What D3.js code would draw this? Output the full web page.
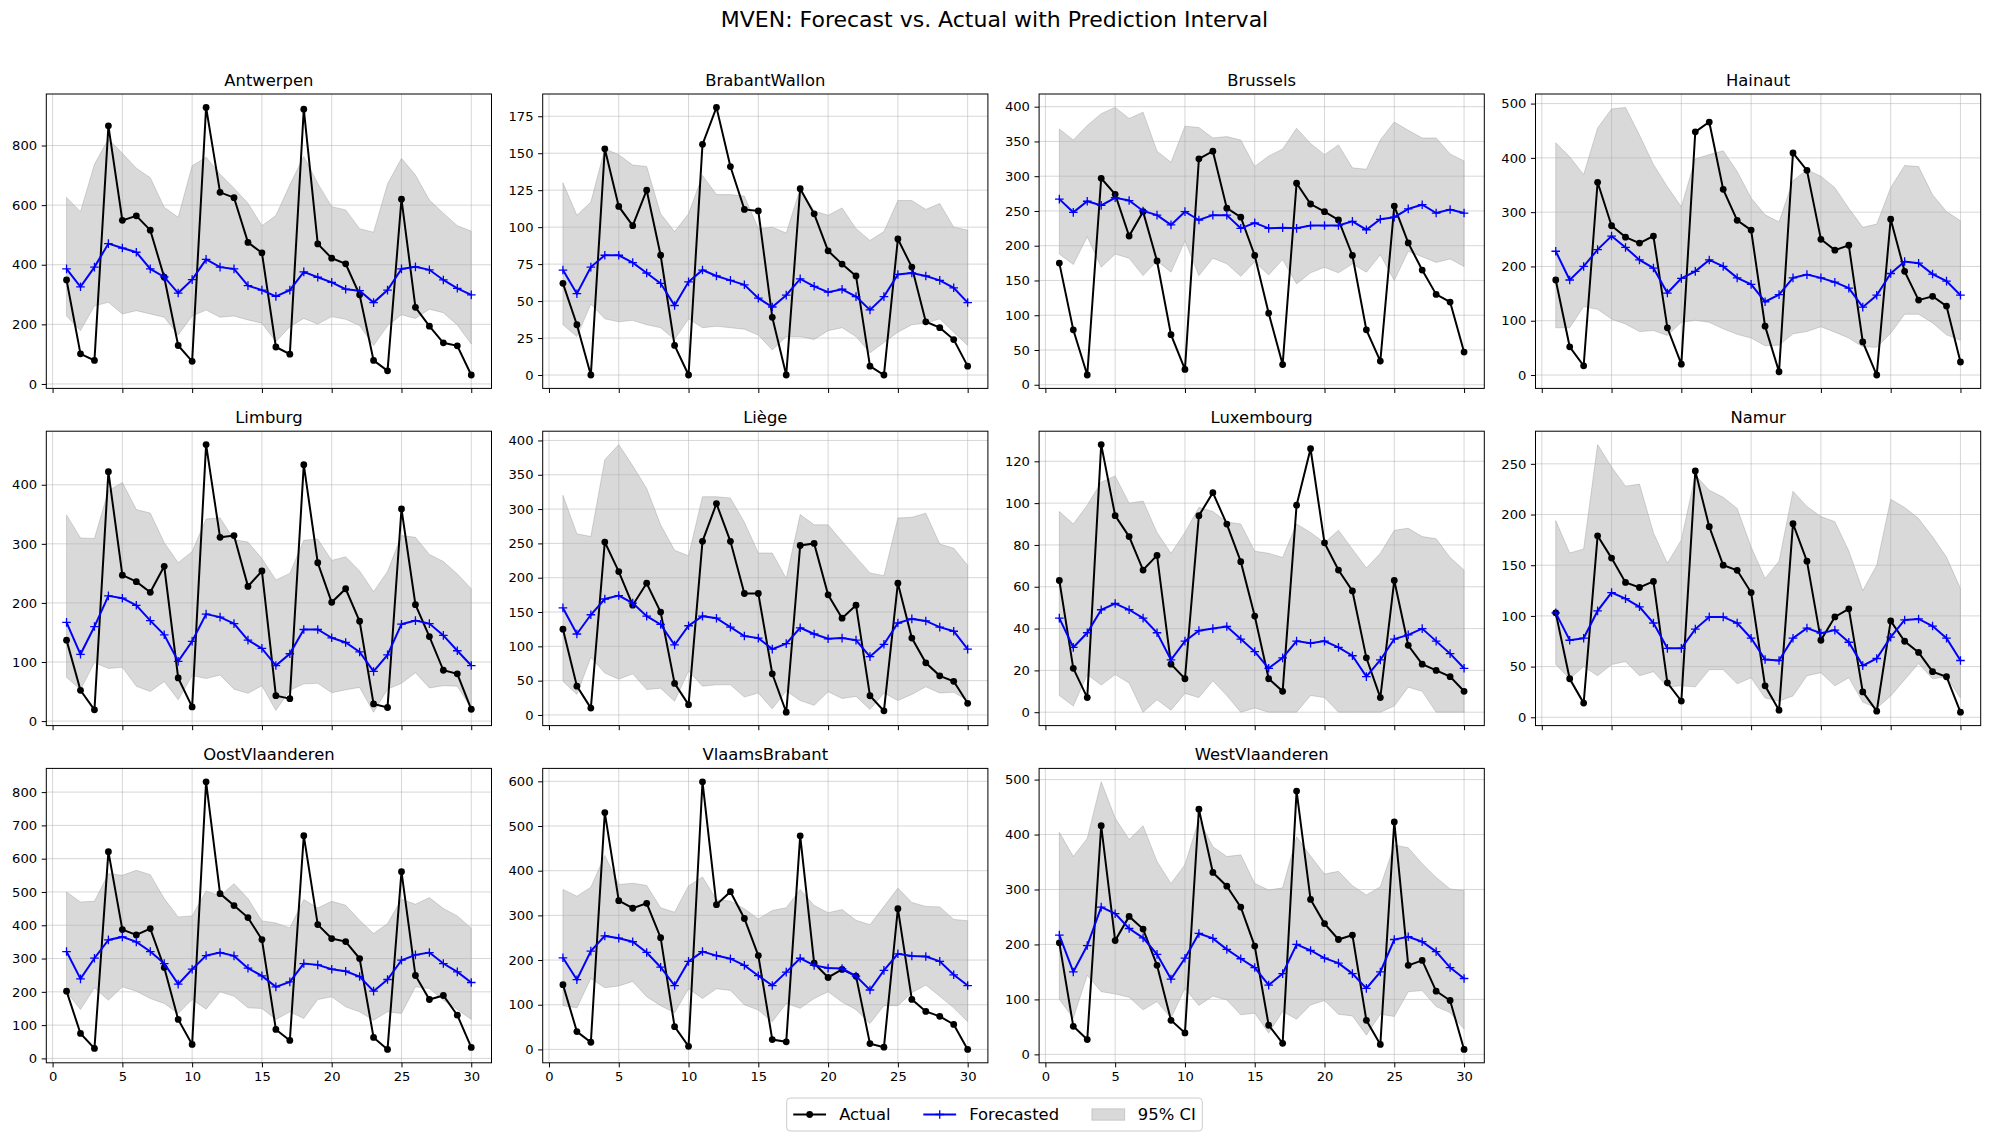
<!DOCTYPE html>
<html>
<head>
<meta charset="utf-8">
<script src="https://cdn.jsdelivr.net/npm/d3@7"></script>
<style>
  body { margin: 0; background: #fff; }
  svg { display: block; font-family: "DejaVu Sans", sans-serif; }
</style>
</head>
<body>
<div id="chart"></div>
<script>
// --- data ---
const regions = ["Antwerpen", "BrabantWallon", "Brussels", "Hainaut", "Limburg", "Liège",
  "Luxembourg", "Namur", "OostVlaanderen", "VlaamsBrabant", "WestVlaanderen"];
const days = d3.range(1, 31);
const xTickValues = [0, 5, 10, 15, 20, 25, 30];

const actual = [
  [349,101,79,866,549,564,516,358,129,76,928,643,625,475,440,124,100,922,470,422,403,299,79,44,620,257,194,138,128,30],
  [62,34,0,153,114,101,125,81,20,0,156,181,141,112,111,39,0,126,109,84,75,67,6,0,92,73,36,32,24,6],
  [175,79,14,297,274,214,249,178,72,22,325,336,254,241,186,103,29,290,260,249,237,186,79,34,257,204,165,130,119,47],
  [175,52,17,355,275,254,243,256,87,20,448,466,342,285,267,90,6,409,377,250,230,239,61,0,287,191,138,145,127,24],
  [137,52,19,422,247,236,218,262,73,24,468,311,314,228,254,43,38,434,268,201,224,169,29,23,359,197,143,86,80,20],
  [125,42,10,252,209,160,192,150,46,15,253,308,253,177,177,60,4,247,250,175,141,160,28,6,192,112,76,57,49,17],
  [63,21,7,128,94,84,68,75,23,16,94,105,90,72,46,16,10,99,126,81,68,58,26,7,63,32,23,20,17,10],
  [103,38,14,179,157,133,128,134,34,16,243,188,150,145,123,31,7,191,154,76,99,107,25,6,95,75,64,45,40,5],
  [202,75,30,621,387,371,390,273,117,42,831,495,459,423,357,87,54,669,402,360,351,300,63,27,561,249,177,189,130,33],
  [145,40,16,530,333,316,327,250,51,7,599,324,353,293,210,22,17,478,193,161,179,164,13,5,315,112,85,74,56,0],
  [203,51,27,416,207,251,228,162,62,39,446,331,306,268,197,53,20,479,282,238,209,217,62,18,423,162,171,115,98,9]
];

const forecast = [
  [386,326,392,471,456,442,386,359,305,350,418,392,386,330,315,294,315,376,358,341,318,313,273,315,386,393,383,349,321,299],
  [71,55,73,81,81,76,69,62,47,63,71,67,64,61,52,46,54,65,60,56,58,53,44,53,68,69,67,64,59,49],
  [267,248,264,258,269,265,250,244,230,249,237,244,244,225,233,225,226,225,229,229,229,235,223,238,241,253,259,247,252,247],
  [228,175,200,231,256,235,212,197,151,178,191,212,200,179,167,135,148,179,185,179,171,160,125,147,187,209,206,186,173,147],
  [167,113,160,212,208,196,170,146,101,135,181,176,165,137,123,94,114,155,155,141,133,117,84,112,164,170,165,145,119,94],
  [156,118,146,169,174,163,144,132,102,130,144,141,128,115,112,96,104,127,118,111,112,109,85,103,134,140,137,128,122,96],
  [45,31,38,49,52,49,45,38,25,34,39,40,41,35,29,21,26,34,33,34,31,27,17,25,35,37,40,34,28,21],
  [103,76,78,105,123,117,109,93,68,68,87,99,99,93,78,57,56,78,88,83,86,74,51,58,79,96,97,90,78,56],
  [321,239,301,356,365,350,321,285,223,268,309,318,308,271,248,215,230,285,281,268,262,246,202,237,295,311,318,285,260,228],
  [205,156,220,254,249,241,217,184,143,197,219,210,203,188,165,143,173,204,188,182,181,164,133,177,214,209,208,197,167,143],
  [217,150,198,268,256,229,212,182,137,175,220,211,191,174,158,126,147,200,189,175,166,147,120,150,209,214,205,187,158,138]
];

const ciUpper = [
  [626,578,737,822,774,724,692,593,559,732,761,704,657,606,531,565,668,763,673,595,584,521,509,671,757,701,617,573,531,513],
  [130,108,117,153,149,142,141,109,97,109,135,122,122,121,99,100,96,126,111,108,113,99,91,97,118,118,112,116,100,98],
  [368,352,373,390,399,383,392,336,320,372,370,355,357,352,314,329,339,369,347,331,345,312,310,352,378,366,355,355,332,322],
  [428,402,369,455,490,493,442,388,347,310,398,406,413,375,326,295,282,358,378,366,345,307,272,278,345,386,384,332,301,284],
  [349,310,309,390,404,358,352,302,268,287,342,344,307,303,275,239,250,306,308,272,278,254,219,253,314,311,282,270,249,224],
  [320,264,260,372,394,363,330,277,240,232,318,318,316,281,236,236,199,292,277,277,253,230,207,203,287,288,294,249,243,218],
  [96,90,99,110,113,100,101,86,76,86,98,96,91,90,77,76,74,90,86,81,87,78,69,76,87,88,84,83,74,68],
  [194,162,166,269,247,228,230,182,152,175,239,224,217,206,168,137,154,223,208,198,193,164,125,150,215,207,196,178,158,127],
  [500,470,472,555,550,565,552,480,425,428,503,488,525,480,413,407,392,477,452,472,460,415,375,405,478,463,483,450,428,391],
  [358,343,363,434,369,372,367,317,307,366,386,335,332,315,292,311,317,358,322,306,313,289,279,320,361,329,320,319,291,288],
  [404,360,393,496,430,391,416,351,311,345,427,378,360,363,311,299,303,396,361,328,333,307,290,305,381,376,347,322,301,298]
];

const ciLower = [
  [228,179,262,274,235,246,235,224,164,228,248,224,228,215,204,142,192,220,201,226,217,196,129,195,232,220,251,239,198,134],
  [34,26,48,38,36,37,34,32,24,38,32,33,32,31,27,17,26,26,24,30,32,26,15,22,29,34,35,38,29,20],
  [188,173,213,169,188,182,157,178,162,207,157,182,174,156,177,158,180,145,161,169,161,174,162,187,150,192,184,176,181,170],
  [87,87,126,121,103,94,80,82,73,97,101,97,85,75,68,54,55,76,80,89,79,68,52,51,77,112,112,96,74,64],
  [74,53,99,89,91,59,50,67,36,77,72,78,54,47,60,18,52,63,64,48,53,57,15,54,64,82,56,60,59,22],
  [49,30,84,61,52,60,37,39,20,64,42,44,44,26,32,9,35,21,14,34,24,27,8,32,21,30,41,32,33,21],
  [8,3,18,13,18,14,0,6,1,9,7,15,8,0,2,0,0,0,8,7,0,0,0,0,3,12,10,0,0,0],
  [52,38,50,41,52,55,41,45,30,31,30,47,47,33,39,19,16,21,41,44,31,39,15,9,21,37,53,38,40,19],
  [200,147,212,175,215,202,180,165,135,177,148,200,187,152,150,117,140,120,177,185,155,140,115,140,135,215,210,175,147,117],
  [98,93,159,138,142,152,118,98,82,136,114,136,132,100,88,62,103,92,114,129,106,89,58,98,98,127,144,119,93,62],
  [100,66,144,114,110,104,81,96,66,120,89,106,99,72,75,39,78,64,90,98,73,70,35,73,69,114,116,87,76,46]
];

const yTickValues = [
  [0, 200, 400, 600, 800],
  [0, 25, 50, 75, 100, 125, 150, 175],
  [0, 50, 100, 150, 200, 250, 300, 350, 400],
  [0, 100, 200, 300, 400, 500],
  [0, 100, 200, 300, 400],
  [0, 50, 100, 150, 200, 250, 300, 350, 400],
  [0, 20, 40, 60, 80, 100, 120],
  [0, 50, 100, 150, 200, 250],
  [0, 100, 200, 300, 400, 500, 600, 700, 800],
  [0, 100, 200, 300, 400, 500, 600],
  [0, 100, 200, 300, 400, 500]
];

const legendLabels = ["Actual", "Forecasted", "95% CI"];

// --- layout ---
const fig = { w: 1989, h: 1139 };
const panel = { left: 46.3, top: 94, colStep: 496.4, rowStep: 337.2, w: 445.2, h: 294.4, cols: 4 };
const tickFont = 13.1;
const tickLen = 4.6;
const tickPad = 4.6;
const fillGray = "#808080";

const svg = d3.select("#chart")
  .append("svg")
  .attr("width", fig.w)
  .attr("height", fig.h)
  .attr("viewBox", `0 0 ${fig.w} ${fig.h}`);

svg.append("text")
  .attr("x", fig.w / 2)
  .attr("y", 27)
  .attr("text-anchor", "middle")
  .attr("font-size", 22)
  .attr("fill", "#000")
  .text("MVEN: Forecast vs. Actual with Prediction Interval");

const x = d3.scaleLinear().domain([1 - 1.45, 30 + 1.45]).range([0, panel.w]);
const plusPath = "M-4.3,0H4.3M0,-4.3V4.3";

regions.forEach((name, i) => {
  const col = i % panel.cols;
  const row = Math.floor(i / panel.cols);
  const g = svg.append("g")
    .attr("transform", `translate(${panel.left + col * panel.colStep},${panel.top + row * panel.rowStep})`);

  const rows = days.map((d, k) => ({
    day: d, act: actual[i][k], fc: forecast[i][k], lo: ciLower[i][k], hi: ciUpper[i][k]
  }));
  const lo = d3.min(rows, r => Math.min(r.act, r.fc, r.lo, r.hi));
  const hi = d3.max(rows, r => Math.max(r.act, r.fc, r.lo, r.hi));
  const pad = (hi - lo) * 0.05;
  const y = d3.scaleLinear().domain([lo - pad, hi + pad]).range([panel.h, 0]);

  const clipId = `clip-${i}`;
  g.append("clipPath").attr("id", clipId)
    .append("rect").attr("width", panel.w).attr("height", panel.h);

  const plot = g.append("g").attr("clip-path", `url(#${clipId})`);

  // prediction interval
  plot.append("path")
    .datum(rows)
    .attr("d", d3.area().x(d => x(d.day)).y0(d => y(d.lo)).y1(d => y(d.hi)))
    .attr("fill", fillGray)
    .attr("fill-opacity", 0.3)
    .attr("stroke", fillGray)
    .attr("stroke-opacity", 0.3)
    .attr("stroke-width", 1);

  // grid
  plot.append("g").selectAll("line")
    .data(xTickValues)
    .join("line")
    .attr("x1", d => x(d)).attr("x2", d => x(d))
    .attr("y1", 0).attr("y2", panel.h)
    .attr("stroke", "#b0b0b0").attr("stroke-opacity", 0.5).attr("stroke-width", 1);
  plot.append("g").selectAll("line")
    .data(yTickValues[i])
    .join("line")
    .attr("x1", 0).attr("x2", panel.w)
    .attr("y1", d => y(d)).attr("y2", d => y(d))
    .attr("stroke", "#b0b0b0").attr("stroke-opacity", 0.5).attr("stroke-width", 1);

  // actual
  plot.append("path")
    .datum(rows)
    .attr("d", d3.line().x(d => x(d.day)).y(d => y(d.act)))
    .attr("fill", "none").attr("stroke", "#000").attr("stroke-width", 2);
  plot.append("g").selectAll("circle")
    .data(rows)
    .join("circle")
    .attr("cx", d => x(d.day)).attr("cy", d => y(d.act))
    .attr("r", 3.4).attr("fill", "#000");

  // forecast
  plot.append("path")
    .datum(rows)
    .attr("d", d3.line().x(d => x(d.day)).y(d => y(d.fc)))
    .attr("fill", "none").attr("stroke", "#0000ff").attr("stroke-width", 2);
  plot.append("g").selectAll("path")
    .data(rows)
    .join("path")
    .attr("transform", d => `translate(${x(d.day)},${y(d.fc)})`)
    .attr("d", plusPath)
    .attr("stroke", "#0000ff").attr("stroke-width", 1.3).attr("fill", "none");

  // axes
  const yAxis = g.append("g")
    .call(d3.axisLeft(y).tickValues(yTickValues[i]).tickSize(tickLen).tickPadding(tickPad).tickSizeOuter(0));
  const xAxis = g.append("g")
    .attr("transform", `translate(0,${panel.h})`)
    .call(d3.axisBottom(x).tickValues(xTickValues).tickSize(tickLen).tickPadding(tickPad).tickSizeOuter(0)
      .tickFormat(row === 2 ? d3.format("d") : () => ""));
  [yAxis, xAxis].forEach(a => {
    a.select(".domain").remove();
    a.selectAll("line").attr("stroke", "#000").attr("stroke-width", 1);
    a.selectAll("text").attr("font-size", tickFont).attr("font-family", "DejaVu Sans").attr("fill", "#000");
  });

  // spines
  g.append("rect")
    .attr("width", panel.w).attr("height", panel.h)
    .attr("fill", "none").attr("stroke", "#000").attr("stroke-width", 1);

  // title
  g.append("text")
    .attr("x", panel.w / 2).attr("y", -8)
    .attr("text-anchor", "middle")
    .attr("font-size", 16.4)
    .attr("fill", "#000")
    .text(name);
});

// --- legend ---
const F = 16.4;
const legend = svg.append("g");
const items = legend.selectAll("g").data(legendLabels).join("g");
items.append("text")
  .attr("font-size", F)
  .attr("dy", "0.35em")
  .text(d => d);
const widths = [];
items.each(function () { widths.push(this.querySelector("text").getComputedTextLength()); });
const borderPad = 0.4 * F, handleLen = 2 * F, textPad = 0.8 * F, colSpace = 2 * F;
const boxW = 2 * borderPad + legendLabels.length * (handleLen + textPad) + d3.sum(widths) + (legendLabels.length - 1) * colSpace;
const boxH = 33;
const boxX = fig.w / 2 - boxW / 2;
const boxY = 1098;
const cy = boxY + boxH / 2;

legend.insert("rect", "g")
  .attr("x", boxX).attr("y", boxY).attr("width", boxW).attr("height", boxH)
  .attr("rx", 3.5)
  .attr("fill", "#fff").attr("fill-opacity", 0.8)
  .attr("stroke", "#cccccc").attr("stroke-width", 1);

let cursor = boxX + borderPad;
items.each(function (d, k) {
  const item = d3.select(this);
  const hx = cursor;
  item.select("text").attr("x", hx + handleLen + textPad).attr("y", cy);
  if (k === 0) {
    item.append("line").attr("x1", hx).attr("x2", hx + handleLen).attr("y1", cy).attr("y2", cy)
      .attr("stroke", "#000").attr("stroke-width", 2);
    item.append("circle").attr("cx", hx + handleLen / 2).attr("cy", cy).attr("r", 3.4).attr("fill", "#000");
  } else if (k === 1) {
    item.append("line").attr("x1", hx).attr("x2", hx + handleLen).attr("y1", cy).attr("y2", cy)
      .attr("stroke", "#0000ff").attr("stroke-width", 2);
    item.append("path").attr("transform", `translate(${hx + handleLen / 2},${cy})`).attr("d", plusPath)
      .attr("stroke", "#0000ff").attr("stroke-width", 1.3);
  } else {
    item.append("rect").attr("x", hx).attr("y", cy - 0.35 * F).attr("width", handleLen).attr("height", 0.7 * F)
      .attr("fill", fillGray).attr("fill-opacity", 0.3)
      .attr("stroke", fillGray).attr("stroke-opacity", 0.3);
  }
  cursor += handleLen + textPad + widths[k] + colSpace;
});
</script>
</body>
</html>
